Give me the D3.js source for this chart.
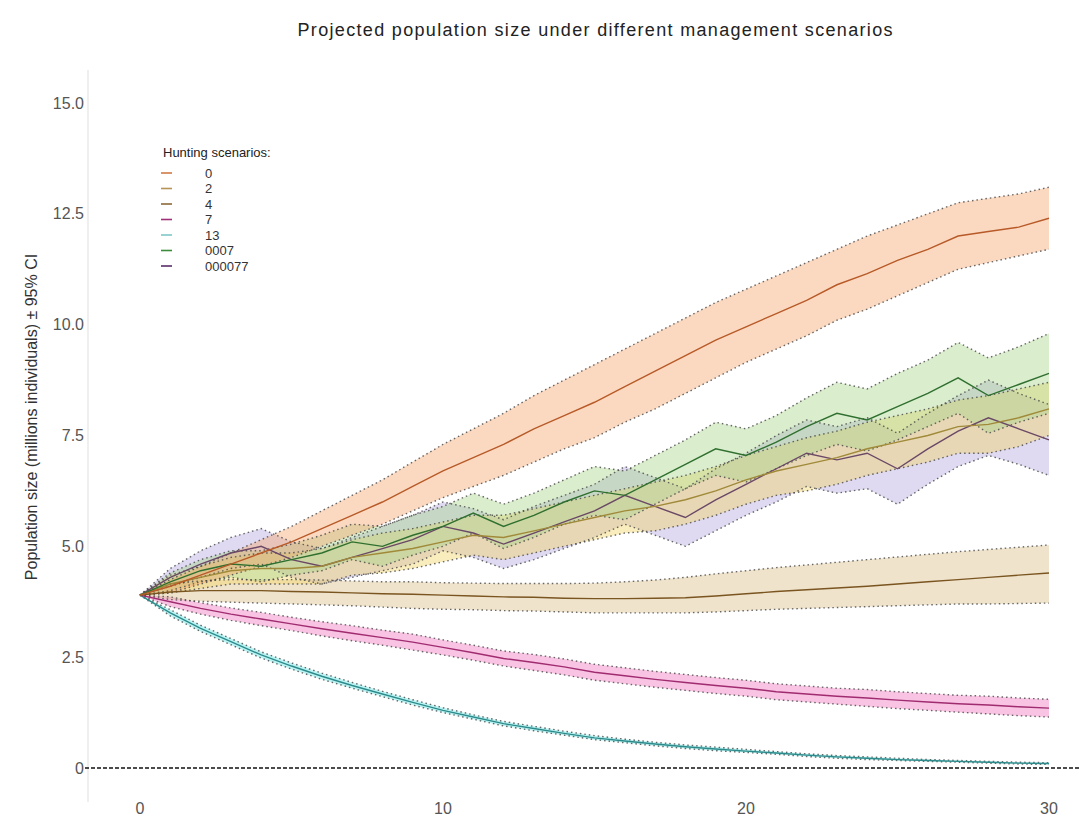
<!DOCTYPE html>
<html>
<head>
<meta charset="utf-8">
<script src="https://cdn.jsdelivr.net/npm/d3@7"></script>
<style>
  html, body { margin: 0; padding: 0; background: #fff; }
  svg { display: block; font-family: "Liberation Sans", Arial, sans-serif; }
</style>
</head>
<body>
<svg id="chart" width="1079" height="822"></svg>
<script>
// Projection years
const years = d3.range(0, 31);

// Scenario labels and colours
const scenarios = ["0", "2", "4", "7", "13", "0007", "000077"];
const lineColors = ["#b85a28", "#a08a3a", "#7a5520", "#a02c70", "#2e8b8b", "#2f6f2f", "#6a4866"];
const fillColors = ["#f6a56b", "#f2d461", "#d8bd86", "#f06fbd", "#5ce5e5", "#a8d488", "#b3a8dd"];
const keyColors  = ["#d27a45", "#b89358", "#8b6a3a", "#a0307a", "#7fc8c8", "#3c8c3c", "#5a2d6a"];

// Mean population size (millions) per scenario, with 95% CI bounds
const mean0 = [3.9,4.1,4.35,4.6,4.85,5.1,5.4,5.7,6.0,6.35,6.7,7.0,7.3,7.65,7.95,8.25,8.6,8.95,9.3,9.65,9.95,10.25,10.55,10.9,11.15,11.45,11.7,12.0,12.1,12.2,12.4];
const lo0   = [3.9,3.95,4.15,4.35,4.55,4.75,5.0,5.25,5.5,5.8,6.1,6.35,6.6,6.9,7.2,7.45,7.8,8.1,8.45,8.8,9.15,9.45,9.75,10.1,10.35,10.65,10.95,11.25,11.4,11.55,11.7];
const hi0   = [3.9,4.25,4.55,4.85,5.15,5.45,5.8,6.15,6.5,6.9,7.3,7.65,8.0,8.4,8.75,9.1,9.45,9.8,10.15,10.5,10.8,11.1,11.4,11.7,12.0,12.25,12.5,12.75,12.85,12.95,13.1];

const mean2 = [3.9,4.15,4.3,4.45,4.5,4.5,4.55,4.75,4.85,4.95,5.1,5.25,5.2,5.35,5.5,5.65,5.8,5.9,6.05,6.25,6.5,6.7,6.85,7.0,7.2,7.35,7.5,7.7,7.75,7.9,8.1];
const lo2   = [3.9,3.95,4.05,4.15,4.15,4.15,4.15,4.35,4.4,4.5,4.65,4.8,4.7,4.85,5.0,5.15,5.3,5.35,5.5,5.7,5.95,6.15,6.25,6.4,6.6,6.75,6.9,7.1,7.1,7.25,7.5];
const hi2   = [3.9,4.35,4.55,4.75,4.85,4.85,4.95,5.15,5.3,5.4,5.55,5.7,5.7,5.85,6.0,6.15,6.3,6.45,6.6,6.8,7.05,7.25,7.45,7.6,7.8,7.95,8.1,8.3,8.4,8.55,8.7];

const mean4 = [3.9,3.97,4.0,4.0,4.0,3.98,3.97,3.95,3.93,3.92,3.9,3.88,3.86,3.85,3.83,3.82,3.82,3.83,3.84,3.88,3.93,3.98,4.02,4.06,4.1,4.15,4.2,4.25,4.3,4.35,4.4];
const lo4   = [3.9,3.8,3.76,3.74,3.72,3.7,3.68,3.66,3.63,3.6,3.58,3.57,3.55,3.54,3.52,3.5,3.5,3.5,3.5,3.52,3.55,3.58,3.6,3.62,3.64,3.66,3.68,3.7,3.7,3.71,3.72];
const hi4   = [3.9,4.15,4.22,4.25,4.25,4.25,4.24,4.22,4.2,4.2,4.18,4.17,4.16,4.16,4.16,4.17,4.2,4.24,4.3,4.38,4.45,4.52,4.58,4.64,4.7,4.76,4.82,4.88,4.93,4.98,5.03];

const mean7 = [3.9,3.75,3.6,3.47,3.36,3.25,3.14,3.04,2.94,2.84,2.72,2.6,2.47,2.38,2.28,2.16,2.08,2.0,1.93,1.86,1.8,1.72,1.67,1.62,1.58,1.53,1.49,1.45,1.42,1.38,1.35];
const lo7   = [3.9,3.64,3.47,3.33,3.21,3.1,2.98,2.87,2.77,2.66,2.55,2.43,2.3,2.2,2.1,1.98,1.9,1.82,1.75,1.68,1.62,1.54,1.49,1.44,1.39,1.34,1.3,1.26,1.22,1.18,1.15];
const hi7   = [3.9,3.86,3.73,3.61,3.51,3.4,3.3,3.21,3.11,3.02,2.89,2.77,2.64,2.56,2.46,2.34,2.26,2.18,2.11,2.04,1.98,1.9,1.85,1.8,1.77,1.72,1.68,1.64,1.62,1.58,1.55];

const mean13 = [3.9,3.5,3.15,2.85,2.55,2.3,2.07,1.86,1.67,1.48,1.3,1.15,1.0,0.89,0.78,0.68,0.61,0.54,0.48,0.43,0.38,0.34,0.29,0.25,0.22,0.19,0.17,0.15,0.13,0.11,0.1];
const lo13   = [3.9,3.43,3.08,2.78,2.48,2.23,2.0,1.8,1.61,1.42,1.25,1.1,0.95,0.84,0.74,0.64,0.57,0.5,0.44,0.39,0.35,0.31,0.26,0.22,0.19,0.17,0.15,0.13,0.11,0.09,0.08];
const hi13   = [3.9,3.57,3.22,2.92,2.62,2.37,2.14,1.93,1.73,1.54,1.36,1.2,1.05,0.94,0.83,0.73,0.65,0.58,0.52,0.47,0.42,0.37,0.32,0.28,0.25,0.22,0.19,0.17,0.15,0.13,0.12];

const meanA = [3.9,4.2,4.45,4.6,4.55,4.7,4.85,5.1,5.0,5.25,5.45,5.75,5.45,5.7,6.0,6.25,6.15,6.5,6.85,7.2,7.05,7.35,7.7,8.0,7.85,8.15,8.45,8.8,8.4,8.65,8.9];
const loA   = [3.9,4.0,4.2,4.3,4.2,4.35,4.45,4.7,4.55,4.8,5.0,5.3,4.95,5.2,5.5,5.7,5.6,5.95,6.3,6.6,6.45,6.75,7.05,7.3,7.15,7.4,7.7,8.0,7.55,7.8,8.0];
const hiA   = [3.9,4.4,4.7,4.9,4.9,5.05,5.25,5.5,5.45,5.7,5.9,6.2,5.95,6.2,6.5,6.8,6.7,7.05,7.4,7.8,7.65,7.95,8.35,8.7,8.55,8.9,9.2,9.6,9.25,9.5,9.8];

const meanB = [3.9,4.3,4.6,4.85,5.0,4.7,4.55,4.75,4.95,5.15,5.45,5.3,5.05,5.3,5.55,5.8,6.15,5.9,5.65,6.05,6.4,6.75,7.1,6.95,7.1,6.75,7.2,7.6,7.9,7.65,7.4];
const loB   = [3.9,4.1,4.3,4.5,4.6,4.3,4.15,4.3,4.45,4.6,4.9,4.75,4.5,4.7,4.95,5.2,5.5,5.25,5.0,5.35,5.7,6.0,6.35,6.2,6.3,5.95,6.4,6.8,7.05,6.85,6.6];
const hiB   = [3.9,4.5,4.9,5.2,5.4,5.1,4.95,5.2,5.45,5.7,6.0,5.85,5.6,5.9,6.15,6.4,6.8,6.55,6.3,6.75,7.1,7.5,7.85,7.7,7.9,7.55,8.0,8.4,8.75,8.45,8.2];

// Axis tick values
const yTicks = [0, 2.5, 5, 7.5, 10, 12.5, 15];
const yTickLabels = ["0", "2.5", "5.0", "7.5", "10.0", "12.5", "15.0"];
const xTicks = [0, 10, 20, 30];

const series = [
  { mean: mean0, lo: lo0, hi: hi0 },
  { mean: mean2, lo: lo2, hi: hi2 },
  { mean: mean4, lo: lo4, hi: hi4 },
  { mean: mean7, lo: lo7, hi: hi7 },
  { mean: mean13, lo: lo13, hi: hi13 },
  { mean: meanA, lo: loA, hi: hiA },
  { mean: meanB, lo: loB, hi: hiB }
].map((s, i) => ({ ...s, name: scenarios[i], line: lineColors[i], fill: fillColors[i] }));

const svg = d3.select("#chart");
const x = d3.scaleLinear().domain([0, 30]).range([140, 1049]);
const y = d3.scaleLinear().domain([0, 15]).range([768, 103]);

// Title
svg.append("text")
  .attr("x", 595).attr("y", 36)
  .attr("text-anchor", "middle")
  .attr("font-size", 18).attr("fill", "#222")
  .attr("textLength", 595).attr("lengthAdjust", "spacing")
  .text("Projected population size under different management scenarios");

// Left axis rule
svg.append("line")
  .attr("x1", 88).attr("x2", 88).attr("y1", 70).attr("y2", 802)
  .attr("stroke", "#e4e4e4").attr("stroke-width", 1.2);

// Y tick labels
const yAxis = svg.append("g");
yTicks.forEach((t, i) => {
  yAxis.append("text")
    .attr("x", 84).attr("y", y(t)).attr("dy", "0.35em")
    .attr("text-anchor", "end")
    .attr("font-size", 16).attr("fill", "#555")
    .text(yTickLabels[i]);
});

// X tick labels
xTicks.forEach(t => {
  svg.append("text")
    .attr("x", x(t)).attr("y", 814)
    .attr("text-anchor", "middle")
    .attr("font-size", 16).attr("fill", "#555")
    .text(t);
});

// Y axis title
svg.append("text")
  .attr("transform", "translate(37,417) rotate(-90)")
  .attr("text-anchor", "middle")
  .attr("font-size", 16).attr("fill", "#333")
  .text("Population size (millions individuals) \u00b1 95% CI");

// Confidence bands
const area = d3.area()
  .x((d, i) => x(years[i]))
  .y0(d => y(d[0]))
  .y1(d => y(d[1]));
const line = d3.line().x((d, i) => x(years[i])).y(d => y(d));

const drawOrder = [4, 3, 2, 6, 1, 5, 0];
const bands = svg.append("g");
drawOrder.forEach(i => {
  const s = series[i];
  bands.append("path")
    .datum(s.lo.map((v, k) => [v, s.hi[k]]))
    .attr("d", area)
    .attr("fill", s.fill).attr("fill-opacity", 0.42);
});

// Confidence bounds (dotted)
const bounds = svg.append("g");
drawOrder.forEach(i => {
  const s = series[i];
  [s.lo, s.hi].forEach(arr => {
    bounds.append("path")
      .datum(arr).attr("d", line)
      .attr("fill", "none")
      .attr("stroke", "#444").attr("stroke-opacity", 0.8)
      .attr("stroke-width", 1.4)
      .attr("stroke-dasharray", "1.5,3");
  });
});

// Mean trajectories
const lines = svg.append("g");
drawOrder.forEach(i => {
  const s = series[i];
  lines.append("path")
    .datum(s.mean).attr("d", line)
    .attr("fill", "none")
    .attr("stroke", s.line).attr("stroke-width", 1.4);
});

// Extinction reference line
svg.append("line")
  .attr("x1", 85).attr("x2", 1079).attr("y1", y(0)).attr("y2", y(0))
  .attr("stroke", "#111").attr("stroke-width", 1.5)
  .attr("stroke-dasharray", "4,2");

// Legend
const legend = svg.append("g");
legend.append("text")
  .attr("x", 163).attr("y", 157)
  .attr("font-size", 13).attr("fill", "#222")
  .text("Hunting scenarios:");
scenarios.forEach((name, i) => {
  const ly = 173 + i * 15.5;
  legend.append("line")
    .attr("x1", 161).attr("x2", 172).attr("y1", ly).attr("y2", ly)
    .attr("stroke", keyColors[i]).attr("stroke-width", 1.6);
  legend.append("text")
    .attr("x", 205).attr("y", ly).attr("dy", "0.35em")
    .attr("font-size", 13).attr("fill", "#333")
    .text(name);
});
</script>
</body>
</html>
